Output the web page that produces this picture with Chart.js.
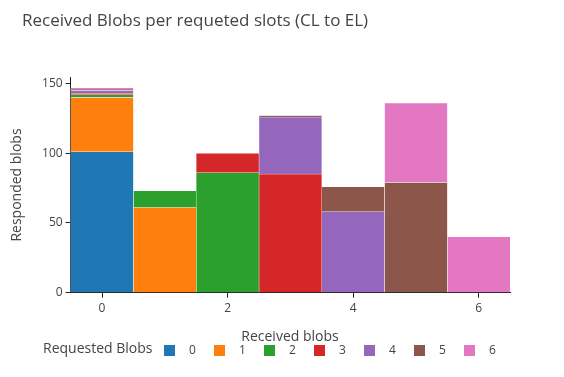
<!DOCTYPE html>
<html>
<head>
<meta charset="utf-8">
<script src="https://cdn.jsdelivr.net/npm/chart.js@4/dist/chart.umd.min.js"></script>
<style>
  html, body { margin: 0; padding: 0; background: #fff; }
  #wrap { width: 564px; height: 377px; }
</style>
</head>
<body>
<div id="wrap"><canvas id="blobs" width="564" height="377"></canvas></div>
<script>
// Received blobs (x) stacked by requested blobs (series)
var receivedBlobs = [0, 1, 2, 3, 4, 5, 6];
var requested = ['0', '1', '2', '3', '4', '5', '6'];
var req0 = [101, null, null, null, null, null, null];
var req1 = [39, 61, null, null, null, null, null];
var req2 = [2, 12, 86, null, null, null, null];
var req3 = [1, null, 14, 85, null, null, null];
var req4 = [2, null, null, 41, 58, null, null];
var req5 = [1, null, null, 1, 18, 79, null];
var req6 = [1, null, null, null, null, 57, 40];
var xTicks = [0, 2, 4, 6];
var yTicks = [0, 50, 100, 150];

var colors = ['#1f77b4', '#ff7f0e', '#2ca02c', '#d62728', '#9467bd', '#8c564b', '#e377c2'];
var series = [req0, req1, req2, req3, req4, req5, req6];
var FONT = '"Open Sans", "Noto Sans", sans-serif';
var INK = '#444';

var datasets = series.map(function (vals, i) {
  return {
    label: requested[i],
    data: vals.map(function (v, j) { return { x: receivedBlobs[j], y: v }; }),
    backgroundColor: colors[i],
    borderColor: '#fff',
    borderWidth: 0.5,
    barPercentage: 1,
    categoryPercentage: 1
  };
});

// titles and legend drawn by hand, plotly style
var decor = {
  id: 'decor',
  afterDraw: function (chart) {
    var ctx = chart.ctx;
    ctx.save();
    ctx.fillStyle = INK;
    ctx.textBaseline = 'middle';
    ctx.textAlign = 'left';
    ctx.font = '17px ' + FONT;
    ctx.fillText('Received Blobs per requeted slots (CL to EL)', 22, 21);

    ctx.font = '14px ' + FONT;
    ctx.textAlign = 'center';
    ctx.fillText('Received blobs', 290, 337);
    ctx.save();
    ctx.translate(17, 185);
    ctx.rotate(-Math.PI / 2);
    ctx.fillText('Responded blobs', 0, 0);
    ctx.restore();

    ctx.textAlign = 'left';
    ctx.fillText('Requested Blobs', 43, 349);
    ctx.font = '12px ' + FONT;
    for (var i = 0; i < requested.length; i++) {
      var bx = 164 + i * 50;
      ctx.fillStyle = colors[i];
      ctx.fillRect(bx, 345, 11, 11);
      ctx.fillStyle = INK;
      ctx.fillText(requested[i], bx + 25, 351);
    }
    ctx.restore();
  }
};

var chart = new Chart(document.getElementById('blobs'), {
  type: 'bar',
  data: { datasets: datasets },
  plugins: [decor],
  options: {
    responsive: false,
    animation: false,
    layout: { padding: { left: 20.6, right: 53.8, top: 77, bottom: 54.3 } },
    plugins: {
      legend: { display: false },
      title: { display: false },
      tooltip: { enabled: false }
    },
    scales: {
      x: {
        type: 'linear',
        stacked: true,
        offset: false,
        min: -0.5,
        max: 6.5,
        afterBuildTicks: function (s) { s.ticks = xTicks.map(function (v) { return { value: v }; }); },
        afterFit: function (s) { s.height = 30; },
        grid: { offset: false, drawOnChartArea: false, tickLength: 5, color: '#242424', tickColor: '#242424' },
        border: { color: '#242424', width: 1 },
        ticks: { color: INK, font: { family: FONT, size: 12 }, padding: 4, maxRotation: 0 }
      },
      y: {
        stacked: true,
        min: 0,
        max: 154.7,
        afterBuildTicks: function (s) { s.ticks = yTicks.map(function (v) { return { value: v }; }); },
        afterFit: function (s) { s.width = 50; },
        grid: { drawOnChartArea: false, tickLength: 5, color: '#242424', tickColor: '#242424' },
        border: { color: '#242424', width: 1 },
        ticks: { color: INK, font: { family: FONT, size: 12 }, padding: 3 }
      }
    }
  }
});
</script>
</body>
</html>
